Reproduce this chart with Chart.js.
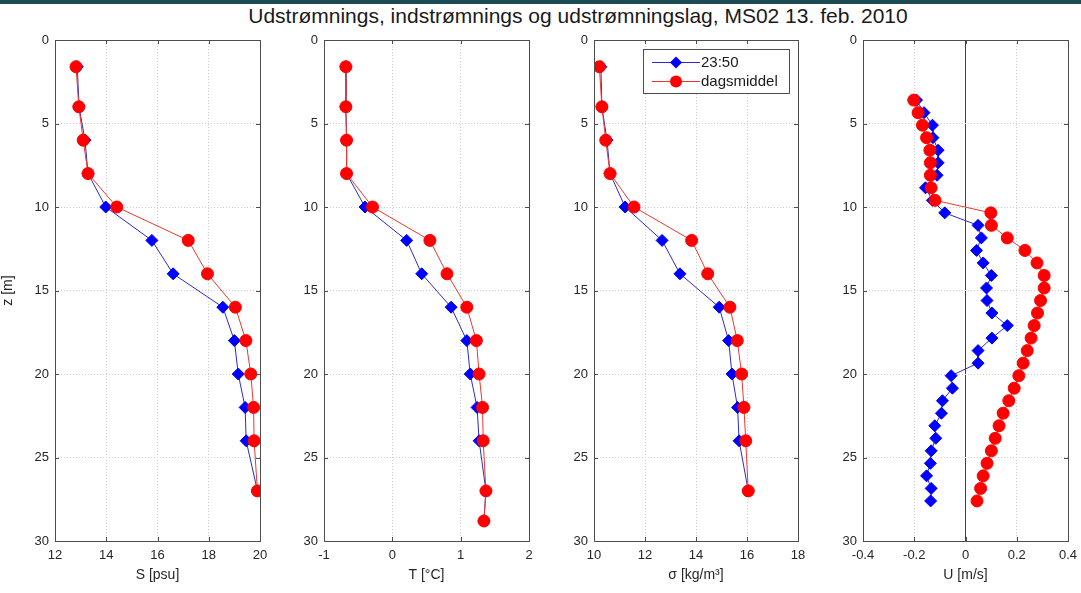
<!DOCTYPE html>
<html>
<head>
<meta charset="utf-8">
<script src="https://cdn.jsdelivr.net/npm/chart.js@4.4.0/dist/chart.umd.min.js"></script>
<style>
    body { margin: 0; background: #ffffff; width: 1081px; height: 593px; overflow: hidden; position: relative; font-family: "Liberation Sans", Arial, sans-serif; }
    .topbar { position: absolute; left: 0; top: 0; width: 1081px; height: 4px; background: #1d4b55; }
    .titulo { position: absolute; left: 0; top: 4px; width: 1156px; text-align: center; font-size: 21px; color: #1a1a1a; white-space: nowrap; }
    canvas { position: absolute; top: 0; }
</style>
</head>
<body>
<div class="topbar"></div>
<div class="titulo">Udstrømnings, indstrømnings og udstrømningslag, MS02 13. feb. 2010</div>
<canvas id="chart1" width="270" height="593" style="left:0px"></canvas>
<canvas id="chart2" width="270" height="593" style="left:270px"></canvas>
<canvas id="chart3" width="270" height="593" style="left:540px"></canvas>
<canvas id="chart4" width="271" height="593" style="left:810px"></canvas>
<script>
// dados
const depthS = [1.6, 4, 6, 8, 10, 12, 14, 16, 18, 20, 22, 24, 27];
const salt2350 = [12.87, 12.94, 13.17, 13.29, 13.98, 15.78, 16.61, 18.55, 19.0, 19.15, 19.42, 19.46, 19.9];
const saltMean = [12.82, 12.93, 13.1, 13.29, 14.41, 17.2, 17.95, 19.04, 19.45, 19.64, 19.75, 19.77, 19.9];

const depthT = [1.6, 4, 6, 8, 10, 12, 14, 16, 18, 20, 22, 24, 27, 28.8];
const temp2350 = [-0.68, -0.68, -0.67, -0.67, -0.40, 0.21, 0.43, 0.86, 1.09, 1.14, 1.24, 1.27, 1.37, 1.34];
const tempMean = [-0.68, -0.68, -0.67, -0.67, -0.29, 0.55, 0.80, 1.09, 1.23, 1.27, 1.32, 1.33, 1.37, 1.34];

const depthSigma = [1.6, 4, 6, 8, 10, 12, 14, 16, 18, 20, 22, 24, 27];
const sigma2350 = [10.27, 10.31, 10.51, 10.63, 11.22, 12.67, 13.37, 14.91, 15.28, 15.41, 15.63, 15.69, 16.05];
const sigmaMean = [10.21, 10.31, 10.46, 10.63, 11.57, 13.83, 14.46, 15.33, 15.62, 15.79, 15.88, 15.95, 16.05];

const depthU = [3.6, 4.35, 5.1, 5.85, 6.6, 7.35, 8.1, 8.85, 9.6, 10.35, 11.1, 11.85, 12.6, 13.35, 14.1, 14.85, 15.6,
    16.35, 17.1, 17.85, 18.6, 19.35, 20.1, 20.85, 21.6, 22.35, 23.1, 23.85, 24.6, 25.35, 26.1, 26.85, 27.6];
const u2350 = [-0.191, -0.162, -0.129, -0.127, -0.107, -0.107, -0.111, -0.156, -0.129, -0.081, 0.049, 0.062, 0.043,
    0.069, 0.101, 0.082, 0.084, 0.103, 0.163, 0.103, 0.049, 0.049, -0.056, -0.051, -0.090, -0.094, -0.120, -0.116,
    -0.134, -0.137, -0.152, -0.134, -0.136];
const uMean = [-0.202, -0.185, -0.168, -0.152, -0.139, -0.137, -0.137, -0.134, -0.119, 0.099, 0.101, 0.163, 0.232,
    0.279, 0.307, 0.307, 0.293, 0.281, 0.268, 0.256, 0.241, 0.225, 0.208, 0.190, 0.169, 0.147, 0.131, 0.116, 0.101,
    0.084, 0.069, 0.059, 0.045];

const depthTicks = [0, 5, 10, 15, 20, 25, 30];
const seriesNames = ['23:50', 'dagsmiddel'];

const textColor = '#262626';
const fontName = '"Liberation Sans", Arial, sans-serif';

function toPoints(xs, depths) {
    const pts = [];
    for (let i = 0; i < xs.length; i++) {
        pts.push({ x: xs[i], y: depths[i] });
    }
    return pts;
}

// moldura estilo matlab com ticks para dentro
const boxPlugin = {
    id: 'box',
    afterDatasetsDraw(chart) {
        const a = chart.chartArea;
        const ctx = chart.ctx;
        const sx = chart.scales.x;
        const sy = chart.scales.y;
        ctx.save();
        ctx.strokeStyle = '#4d4d4d';
        ctx.lineWidth = 1;
        ctx.strokeRect(Math.round(a.left) + 0.5, Math.round(a.top) + 0.5, Math.round(a.right - a.left), Math.round(a.bottom - a.top));
        ctx.beginPath();
        sx.ticks.forEach(t => {
            const px = Math.round(sx.getPixelForValue(t.value)) + 0.5;
            ctx.moveTo(px, a.top); ctx.lineTo(px, a.top + 4);
            ctx.moveTo(px, a.bottom); ctx.lineTo(px, a.bottom - 4);
        });
        sy.ticks.forEach(t => {
            const py = Math.round(sy.getPixelForValue(t.value)) + 0.5;
            ctx.moveTo(a.left, py); ctx.lineTo(a.left + 4, py);
            ctx.moveTo(a.right, py); ctx.lineTo(a.right - 4, py);
        });
        ctx.stroke();
        ctx.restore();
    }
};

// legenda dentro do painel da densidade
const legendPlugin = {
    id: 'innerLegend',
    afterDraw(chart) {
        if (!chart.options.plugins.innerLegend || !chart.options.plugins.innerLegend.show) return;
        const a = chart.chartArea;
        const ctx = chart.ctx;
        const left = a.right - 155, top = a.top + 9, w = 146, h = 44;
        ctx.save();
        ctx.fillStyle = '#ffffff';
        ctx.fillRect(left, top, w, h);
        ctx.strokeStyle = '#4d4d4d';
        ctx.lineWidth = 1;
        ctx.strokeRect(left + 0.5, top + 0.5, w, h);
        const rows = [top + 13.5, top + 32.5];
        // dataset 0 = media (desenhada por cima), dataset 1 = 23:50
        const ds = [chart.data.datasets[1], chart.data.datasets[0]];
        for (let i = 0; i < 2; i++) {
            const y = rows[i];
            const d = ds[i];
            ctx.strokeStyle = d.borderColor;
            ctx.beginPath();
            ctx.moveTo(left + 9, y); ctx.lineTo(left + 57, y);
            ctx.stroke();
            ctx.fillStyle = d.pointBackgroundColor;
            ctx.beginPath();
            const cx = left + 33, r = d.pointRadius;
            if (d.pointStyle === 'rectRot') {
                ctx.moveTo(cx - r, y); ctx.lineTo(cx, y - r); ctx.lineTo(cx + r, y); ctx.lineTo(cx, y + r);
                ctx.closePath();
            } else {
                ctx.arc(cx, y, r, 0, Math.PI * 2);
            }
            ctx.fill();
            ctx.fillStyle = '#1a1a1a';
            ctx.font = '15px ' + fontName;
            ctx.textBaseline = 'middle';
            ctx.fillText(d.label, left + 58, y + 0.5);
        }
        ctx.restore();
    }
};

function makePanel(id, opts) {
    const ctx = document.getElementById(id).getContext('2d');
    return new Chart(ctx, {
        type: 'scatter',
        data: {
            datasets: [
                {
                    label: seriesNames[1],
                    data: toPoints(opts.mean, opts.depth),
                    showLine: true,
                    borderColor: '#e8392f',
                    borderWidth: 1,
                    pointStyle: 'circle',
                    pointRadius: 6,
                    pointBackgroundColor: '#ff0000',
                    pointBorderColor: '#ff0000',
                    pointBorderWidth: 1,
                    order: 1,
                },
                {
                    label: seriesNames[0],
                    data: toPoints(opts.now, opts.depthNow || opts.depth),
                    showLine: true,
                    borderColor: '#2b2bc4',
                    borderWidth: 1,
                    pointStyle: 'rectRot',
                    pointRadius: 6,
                    pointBackgroundColor: '#0000ff',
                    pointBorderColor: '#0000ff',
                    pointBorderWidth: 1,
                    order: 2,
                },
            ],
        },
        options: {
            responsive: false,
            animation: false,
            layout: { padding: { top: 40, left: 0, right: opts.padRight, bottom: 0 } },
            plugins: {
                legend: { display: false },
                tooltip: { enabled: false },
                innerLegend: { show: !!opts.legend },
            },
            scales: {
                x: {
                    type: 'linear',
                    min: opts.xMin,
                    max: opts.xMax,
                    afterBuildTicks: s => { s.ticks = opts.xTicks.map(v => ({ value: v })); },
                    afterFit: s => { s.height = 52; s.paddingLeft = 0; s.paddingRight = 0; },
                    ticks: { color: textColor, font: { family: fontName, size: 13 }, padding: 7, maxRotation: 0 },
                    grid: {
                        drawTicks: false,
                        color: c => (opts.zeroLine && c.tick && c.tick.value === 0) ? '#404040' : '#cfcfcf',
                    },
                    border: {
                        display: false,
                        dash: c => (opts.zeroLine && c.tick && c.tick.value === 0) ? [] : [1, 2],
                    },
                    title: { display: true, text: opts.xTitle, color: textColor, font: { family: fontName, size: 14 }, padding: { top: 0, bottom: 9 } },
                },
                y: {
                    type: 'linear',
                    reverse: true,
                    min: 0,
                    max: 30,
                    afterBuildTicks: s => { s.ticks = depthTicks.map(v => ({ value: v })); },
                    afterFit: s => { s.width = opts.yWidth; s.paddingTop = 0; s.paddingBottom = 0; },
                    ticks: { color: textColor, font: { family: fontName, size: 13 }, padding: 6 },
                    grid: { drawTicks: false, color: '#cfcfcf' },
                    border: { display: false, dash: [1, 2] },
                    title: { display: !!opts.yTitle, text: opts.yTitle, color: textColor, font: { family: fontName, size: 14 }, padding: { top: 0, bottom: 12 } },
                },
            },
        },
        plugins: [boxPlugin, legendPlugin],
    });
}

var chart1 = makePanel('chart1', {
    depth: depthS, now: salt2350, mean: saltMean,
    xMin: 12, xMax: 20, xTicks: [12, 14, 16, 18, 20], xTitle: 'S [psu]', yTitle: 'z [m]',
    yWidth: 55, padRight: 10,
});

var chart2 = makePanel('chart2', {
    depth: depthT, now: temp2350, mean: tempMean,
    xMin: -1, xMax: 2, xTicks: [-1, 0, 1, 2], xTitle: 'T [°C]',
    yWidth: 54, padRight: 11,
});

var chart3 = makePanel('chart3', {
    depth: depthSigma, now: sigma2350, mean: sigmaMean,
    xMin: 10, xMax: 18, xTicks: [10, 12, 14, 16, 18], xTitle: 'σ [kg/m³]',
    yWidth: 54, padRight: 12, legend: true,
});

var chart4 = makePanel('chart4', {
    depth: depthU, now: u2350, mean: uMean,
    xMin: -0.4, xMax: 0.4, xTicks: [-0.4, -0.2, 0, 0.2, 0.4], xTitle: 'U [m/s]',
    yWidth: 53, padRight: 13, zeroLine: true,
});
</script>
</body>
</html>
